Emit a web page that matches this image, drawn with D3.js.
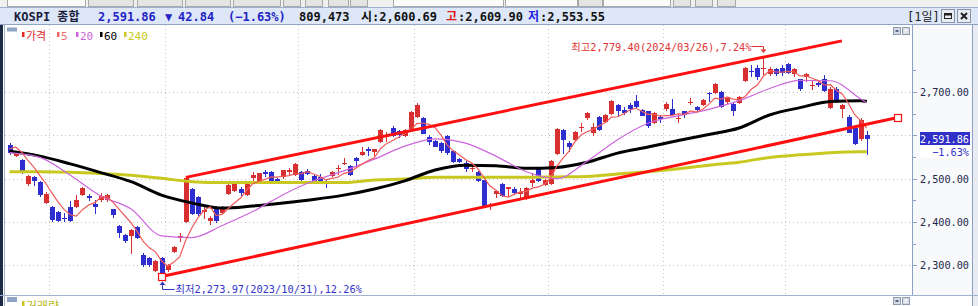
<!DOCTYPE html>
<html>
<head>
<meta charset="utf-8">
<script src="https://cdn.jsdelivr.net/npm/d3@7"></script>
<style>
body { margin: 0; background: #fff; overflow: hidden; }
text { font-family: "DejaVu Sans Mono", "Noto Sans CJK KR", monospace; }
</style>
</head>
<body>
<svg id="chart" width="978" height="306"></svg>
<script>
// daily candles, 2023/09/19 .. 2024/04/19
var opens = [2578,2553,2543,2488,2504,2493,2445,2434,2423,2410,
  2434,2434,2462,2461,2442,2451,2450,2430,2391,2370,
  2368,2388,2323,2318,2288,2316,2289,2331,2364,2400,
  2476,2458,2423,2403,2434,2421,2466,2472,2476,2463,
  2503,2489,2516,2516,2499,2503,2515,2508,2516,2518,
  2506,2503,2494,2506,2522,2534,2529,2547,2555,2568,
  2560,2585,2596,2617,2610,2597,2614,2643,2641,2597,
  2588,2583,2598,2564,2545,2537,2522,2516,2496,2437,
  2465,2487,2476,2476,2465,2452,2488,2522,2485,2489,
  2557,2612,2583,2589,2616,2639,2606,2643,2631,2649,
  2670,2659,2670,2680,2658,2655,2628,2643,2661,2660,
  2637,2655,2676,2666,2670,2697,2697,2700,2675,2672,
  2675,2724,2749,2755,2754,2741,2753,2755,2764,2741,
  2729,2734,2714,2720,2731,2665,2708,2660,2643,2618,
  2591,2600.69];
var highs = [2582,2562,2545,2509,2506,2494,2470,2436,2426,2421,
  2448,2462,2481,2465,2451,2467,2465,2431,2392,2372,
  2384,2390,2329,2320,2312,2319,2303,2345,2374,2503,
  2478,2460,2434,2414,2437,2436,2489,2492,2481,2495,
  2516,2514,2520,2518,2501,2521,2524,2536,2518,2522,
  2508,2510,2498,2518,2531,2547,2531,2550,2574,2574,
  2569,2614,2608,2622,2613,2614,2656,2675,2643,2600,
  2590,2585,2600,2566,2547,2541,2531,2518,2498,2443,
  2473,2490,2481,2480,2478,2480,2514,2525,2500,2543,
  2616,2614,2586,2610,2628,2653,2628,2645,2650,2682,
  2673,2665,2674,2693,2660,2657,2654,2647,2678,2683,
  2649,2657,2687,2668,2683,2700,2720,2702,2687,2675,
  2691,2757,2762,2762,2779.40,2758,2756,2762,2767,2756,
  2731,2745,2727,2728,2739,2711,2712,2672,2646,2620,
  2640,2609.90];
var lows = [2554,2549,2510,2483,2482,2457,2441,2400,2400,2401,
  2400,2432,2460,2448,2418,2447,2447,2410,2362,2351,
  2325,2360,2297,2296,2285,2273.97,2284,2329,2354,2398,
  2416,2413,2408,2392,2397,2418,2463,2470,2460,2460,
  2495,2487,2503,2492,2487,2500,2505,2505,2495,2508,
  2488,2490,2478,2504,2508,2531,2506,2528,2552,2553,
  2553,2583,2585,2596,2594,2595,2612,2640,2603,2577,
  2572,2560,2555,2535,2535,2516,2516,2493,2432,2428,
  2455,2458,2458,2462,2451,2450,2481,2493,2482,2486,
  2555,2558,2562,2587,2608,2636,2598,2610,2628,2647,
  2643,2648,2652,2664,2644,2616,2626,2628,2655,2645,
  2628,2639,2670,2656,2668,2677,2695,2663,2672,2644,
  2672,2722,2735,2728,2740,2738,2738,2737,2742,2735,
  2703,2724,2705,2712,2701,2660,2675,2639,2605,2578,
  2588,2553.55];
var closes = [2559,2560,2513,2507,2494,2462,2465,2405,2403,2408,
  2402,2450,2479,2456,2436,2460,2462,2415,2375,2357,
  2381,2363,2299,2302,2310,2278,2301,2343,2368,2502,
  2419,2418,2427,2409,2402,2434,2486,2488,2466,2492,
  2509,2512,2512,2495,2490,2519,2519,2533,2498,2512,
  2491,2493,2492,2516,2524,2536,2508,2539,2562,2564,
  2568,2612,2598,2598,2601,2612,2654,2670,2605,2585,
  2575,2564,2558,2539,2537,2522,2525,2495,2435,2440,
  2472,2460,2480,2466,2470,2478,2496,2495,2496,2541,
  2614,2589,2574,2608,2619,2651,2620,2612,2647,2680,
  2655,2651,2660,2666,2645,2620,2652,2639,2672,2647,
  2639,2645,2678,2658,2681,2695,2718,2665,2685,2655,
  2689,2755,2747,2735,2756,2753,2741,2743,2744,2753,
  2705,2741,2716,2716,2703,2708,2677,2670,2606,2580,
  2634.70,2591.86];
// the four closes before the window, for the 5 day average
var prevCloses = [2536,2572,2601,2574];
// 20, 60 and 240 day averages read at these candle indices
var maIdx = [0,5,10,15,20,25,30,35,40,45,50,55,60,65,70,75,80,85,90,95,
  100,105,110,115,120,125,130,135,140,141];
var ma20 = [2560,2549,2508,2460,2430,2368,2364,2392,2424,2463,2495,2518,2545,2575,2592,
  2582,2552,2516,2500,2540,2590,2628,2645,2660,2680,2708,2727,2726,2684,2675];
var ma60 = [2563,2552,2534,2514,2493,2462,2444,2432,2437,2444,2452,2462,2476,2495,2520,
  2531,2530,2524,2526,2538,2559,2573,2588,2602,2617,2647,2664,2678,2680,2678];
var ma240 = [2516,2516,2515,2512,2508,2501,2493,2491,2491,2491,2491,2491,2497,2499,2503,
  2503,2503,2503,2504,2505,2511,2516,2523,2531,2538,2549,2555,2560,2562,2562];
var monthStarts = [7,26,48,67,89,108,128];
var yTicks = [2300,2400,2500,2600,2700];
var yMinor = [2350,2450,2550,2650,2750];
// trend channel anchors [candle index, value]
var chanLow = [[25,2273.97],[146.1,2641]];
var chanHigh = [[29,2503],[136.9,2818]];
var hiIdx = 124, hiDate = "2024/03/26";
var loIdx = 25, loDate = "2023/10/31";
var volume = 809473;
var legendNames = ["가격","5","20","60","240"];
var legendColors = ["#e02828","#f06a6a","#cc66dd","#000000","#c8c820"];

var svg = d3.select("#chart");
var fmt = d3.format(",.2f");
var last = closes.length - 1;

var x = d3.scaleLinear().domain([0, last]).range([9.5, 866.8]);
var y = d3.scaleLinear().domain([2300, 2700]).range([265.3, 92]);

// window frame
svg.append("rect").attr("x",0).attr("y",0).attr("width",978).attr("height",306).attr("fill","#fff");
svg.append("rect").attr("x",0).attr("y",0).attr("width",978).attr("height",8).attr("fill","#f0f0f0");
var btns = [[7,78],[88,45],[137,45],[185,45],[233,47],[283,17],[305,17],[328,20],[350,17],[393,110],[505,72],[578,24],[603,67],[673,17],[695,17],[717,18]];
btns.forEach(function(b){
  svg.append("rect").attr("x",b[0]+0.5).attr("y",-3.5).attr("width",b[1]).attr("height",10)
    .attr("fill", b[1] > 60 ? "#fbfbfb" : "#e4e4e4").attr("stroke","#a8a8a8");
});
svg.append("rect").attr("x",0).attr("y",7.5).attr("width",978).attr("height",17).attr("fill","#dde7f7");
svg.append("line").attr("x1",0).attr("x2",978).attr("y1",7.5).attr("y2",7.5).attr("stroke","#9fb0cc");
svg.append("line").attr("x1",0).attr("x2",978).attr("y1",24.5).attr("y2",24.5).attr("stroke","#8ea2c2");

// right scale panel
svg.append("rect").attr("x",912).attr("y",25).attr("width",61).attr("height",271).attr("fill","#f7f9fb");
svg.append("rect").attr("x",973).attr("y",25).attr("width",5).attr("height",281).attr("fill","#e9edf3");
svg.append("line").attr("x1",912.5).attr("x2",912.5).attr("y1",25).attr("y2",296).attr("stroke","#8aa0c2");
svg.append("line").attr("x1",972.5).attr("x2",972.5).attr("y1",25).attr("y2",306).attr("stroke","#8aa0c2");
svg.append("rect").attr("x",0).attr("y",25).attr("width",3).attr("height",281).attr("fill","#1e2b47");
svg.append("line").attr("x1",4.5).attr("x2",4.5).attr("y1",25).attr("y2",306).attr("stroke","#9fb2cf");
svg.append("line").attr("x1",0).attr("x2",978).attr("y1",295.5).attr("y2",295.5).attr("stroke","#9fb2cf");

// header
var hy = 20.5;
function htext(tx, str, col, bold) {
  svg.append("text").attr("x",tx).attr("y",hy).attr("font-size",12)
    .attr("font-weight", bold ? "bold" : "normal").attr("fill",col).text(str);
}
var chg = closes[last] - closes[last-1];
htext(14, "KOSPI 종합", "#1b1d3d", true);
htext(98, fmt(closes[last]), "#2323c4", true);
htext(165, chg < 0 ? "▼" : "▲", "#2323c4", true);
htext(178, fmt(Math.abs(chg)), "#2323c4", true);
htext(228, "(" + d3.format(".2f")(chg / closes[last-1] * 100) + "%)", "#2323c4", true);
htext(299, d3.format(",")(volume), "#111", true);
htext(361, "시:" + fmt(opens[last]), "#111", true);
htext(446, "고", "#e01818", true);
htext(458, ":" + fmt(highs[last]), "#111", true);
htext(528, "저", "#2323e0", true);
htext(540, ":" + fmt(lows[last]), "#111", true);
htext(907, "[1일]", "#222", false);
[941.5, 957.5].forEach(function(bx, k){
  svg.append("rect").attr("x",bx).attr("y",9.5).attr("width",13).attr("height",13)
    .attr("fill","#e8ecf2").attr("stroke","#8a94a6");
  if (k === 0) {
    svg.append("rect").attr("x",bx+3).attr("y",13.5).attr("width",7).attr("height",5)
      .attr("fill","none").attr("stroke","#222").attr("stroke-width",1);
    svg.append("line").attr("x1",bx+3).attr("x2",bx+10).attr("y1",14.5).attr("y2",14.5).attr("stroke","#222").attr("stroke-width",2);
  } else {
    svg.append("path").attr("d","M"+(bx+3.5)+",13 L"+(bx+9.5)+",19 M"+(bx+9.5)+",13 L"+(bx+3.5)+",19")
      .attr("stroke","#222").attr("stroke-width",2);
  }
});

// small pane buttons
[[893,27.5],[893,297.5]].forEach(function(p){
  svg.append("rect").attr("x",p[0]+0.5).attr("y",p[1]).attr("width",7).attr("height",7).attr("fill","#d5dbe4").attr("stroke","#8e9bb0");
  svg.append("rect").attr("x",p[0]+2.5).attr("y",p[1]+2.5).attr("width",3).attr("height",2).attr("fill","#5a6a88");
  svg.append("rect").attr("x",p[0]+9.5).attr("y",p[1]).attr("width",7).attr("height",7).attr("fill","#d5dbe4").attr("stroke","#8e9bb0");
  svg.append("path").attr("d","M"+(p[0]+11.5)+","+(p[1]+2)+" l3,3 m0,-3 l-3,3").attr("stroke","#fff").attr("stroke-width",1.2);
});

// legend row
svg.append("rect").attr("x",7).attr("y",27.5).attr("width",10).attr("height",4).attr("fill","#8ea5c7");
var lx = [22, 57, 76, 100, 124];
legendNames.forEach(function(n, k){
  svg.append("rect").attr("x",lx[k]).attr("y",32).attr("width",2.5).attr("height",5).attr("fill",legendColors[k]);
  svg.append("text").attr("x",lx[k]+4).attr("y",39.5).attr("font-size",11)
    .attr("font-family","'Noto Sans CJK KR', sans-serif")
    .attr("fill",legendColors[k]).text(n);
});
svg.append("rect").attr("x",7).attr("y",297).attr("width",10).attr("height",5).attr("fill","#8ea5c7");
svg.append("rect").attr("x",22).attr("y",301).attr("width",2.5).attr("height",5).attr("fill","#c8c820");
svg.append("text").attr("x",26).attr("y",311).attr("font-size",12)
  .attr("font-family","'Noto Sans CJK KR', sans-serif").attr("fill","#b8b818").text("거래량");

// grid
svg.append("clipPath").attr("id","plotclip").append("rect")
  .attr("x",5).attr("y",25).attr("width",907).attr("height",270);
var grid = svg.append("g");
grid.selectAll("line.h").data(yTicks).enter().append("line")
  .attr("x1",5).attr("x2",912).attr("y1",function(d){ return Math.round(y(d)) + 0.5; })
  .attr("y2",function(d){ return Math.round(y(d)) + 0.5; })
  .attr("stroke","#c4c4c4").attr("stroke-dasharray","1,3");
grid.selectAll("line.v").data(monthStarts).enter().append("line")
  .attr("x1",function(d){ return Math.round((x(d) + x(d-1)) / 2) + 0.5; })
  .attr("x2",function(d){ return Math.round((x(d) + x(d-1)) / 2) + 0.5; })
  .attr("y1",25).attr("y2",295)
  .attr("stroke","#c4c4c4").attr("stroke-dasharray","1,3");

// right axis (the label under the current price box is hidden)
var cy = Math.round(y(closes[last]));
var axis = svg.append("g");
axis.selectAll("line.maj").data(yTicks).enter().append("line")
  .attr("x1",912).attr("x2",917).attr("y1",function(d){ return Math.round(y(d)) + 0.5; })
  .attr("y2",function(d){ return Math.round(y(d)) + 0.5; }).attr("stroke","#8aa0c2");
axis.selectAll("line.min").data(yMinor).enter().append("line")
  .attr("x1",912).attr("x2",916).attr("y1",function(d){ return Math.round(y(d)) + 0.5; })
  .attr("y2",function(d){ return Math.round(y(d)) + 0.5; }).attr("stroke","#8aa0c2");
axis.selectAll("text").data(yTicks.filter(function(d){ return Math.abs(y(d) - cy) > 20; }))
  .enter().append("text")
  .attr("x",969).attr("y",function(d){ return y(d) + 4; })
  .attr("text-anchor","end").attr("font-size",10.2).attr("fill","#22264a")
  .text(function(d){ return fmt(d); });

// price plot
var plot = svg.append("g").attr("clip-path","url(#plotclip)");
var upCol = "#d83030", dnCol = "#2e2ed0";
var cand = plot.selectAll("g.c").data(closes).enter().append("g");
cand.append("line")
  .attr("x1",function(d,i){ return Math.round(x(i)) + 0.5; })
  .attr("x2",function(d,i){ return Math.round(x(i)) + 0.5; })
  .attr("y1",function(d,i){ return Math.round(y(highs[i])); })
  .attr("y2",function(d,i){ return Math.round(y(lows[i])); })
  .attr("stroke",function(d,i){ return d >= opens[i] ? upCol : dnCol; });
cand.append("rect")
  .attr("x",function(d,i){ return Math.round(x(i)) - 2; })
  .attr("width",5)
  .attr("y",function(d,i){ return Math.round(y(Math.max(d, opens[i]))); })
  .attr("height",function(d,i){ return Math.max(1, Math.round(Math.abs(y(d) - y(opens[i])))); })
  .attr("fill",function(d,i){ return d >= opens[i] ? upCol : dnCol; });

var allCloses = prevCloses.concat(closes);
var ma5 = closes.map(function(c, i){
  var k = i + prevCloses.length;
  return d3.mean(allCloses.slice(k - 4, k + 1));
});
var line = d3.line().x(function(d,i){ return x(i); }).y(function(d){ return y(d); });
var mline = d3.line().x(function(d,i){ return x(maIdx[i]); }).y(function(d){ return y(d); }).curve(d3.curveMonotoneX);
plot.append("path").attr("d",mline(ma240)).attr("fill","none").attr("stroke","#c8c820").attr("stroke-width",3);
plot.append("path").attr("d",mline(ma60)).attr("fill","none").attr("stroke","#000").attr("stroke-width",3);
plot.append("path").attr("d",mline(ma20)).attr("fill","none").attr("stroke","#cc66dd").attr("stroke-width",1.2);
plot.append("path").attr("d",line(ma5)).attr("fill","none").attr("stroke","#f05a5a").attr("stroke-width",1.2);

// trend channel
[chanLow, chanHigh].forEach(function(c){
  plot.append("line").attr("x1",x(c[0][0])).attr("y1",y(c[0][1]))
    .attr("x2",x(c[1][0])).attr("y2",y(c[1][1]))
    .attr("stroke","#ff1010").attr("stroke-width",3);
});
chanLow.forEach(function(p){
  svg.append("rect").attr("x",Math.round(x(p[0])) - 3.5).attr("y",Math.round(y(p[1])) - 3.5)
    .attr("width",7).attr("height",7).attr("fill","#fff").attr("stroke","#ff1010").attr("stroke-width",1.2);
});

// high / low notes
var hx = Math.round(x(hiIdx)) + 0.5, hv = highs[hiIdx];
var hiTxt = "최고" + fmt(hv) + "(" + hiDate + ")," + d3.format(".2f")((hv - closes[last]) / closes[last] * 100) + "%";
svg.append("text").attr("x",hx - 12).attr("y",51).attr("text-anchor","end")
  .attr("font-size",10.3).attr("fill","#e03434").text(hiTxt);
svg.append("path").attr("d","M"+(hx-12)+",46.5 H"+hx+" V51").attr("fill","none").attr("stroke","#e03434");
svg.append("path").attr("d","M"+(hx-3)+",49.5 L"+(hx+3)+",49.5 L"+hx+",53 Z").attr("fill","#e03434");

var lx0 = Math.round(x(loIdx)) + 0.5, lv = lows[loIdx];
var loTxt = "최저" + fmt(lv) + "(" + loDate + ")," + d3.format(".2f")((closes[last] - lv) / closes[last] * 100) + "%";
svg.append("path").attr("d","M"+lx0+",284 V289.5 H"+(lx0+12)).attr("fill","none").attr("stroke","#3434c8");
svg.append("path").attr("d","M"+(lx0-3)+",285 L"+(lx0+3)+",285 L"+lx0+",281.5 Z").attr("fill","#3434c8");
svg.append("text").attr("x",lx0 + 13).attr("y",292.5)
  .attr("font-size",10.3).attr("fill","#3434c8").text(loTxt);

// current price marker
svg.append("rect").attr("x",920).attr("y",cy - 7).attr("width",50).attr("height",13).attr("fill","#3030c8");
svg.append("text").attr("x",969).attr("y",cy + 3.5).attr("text-anchor","end")
  .attr("font-size",10.2).attr("fill","#fff").text(fmt(closes[last]));
svg.append("rect").attr("x",920).attr("y",cy + 6).attr("width",50).attr("height",13).attr("fill","#fff");
svg.append("text").attr("x",969).attr("y",cy + 16.5).attr("text-anchor","end")
  .attr("font-size",10.2).attr("fill","#3030c8").text(d3.format(".2f")(chg / closes[last-1] * 100) + "%");
</script>
</body>
</html>
